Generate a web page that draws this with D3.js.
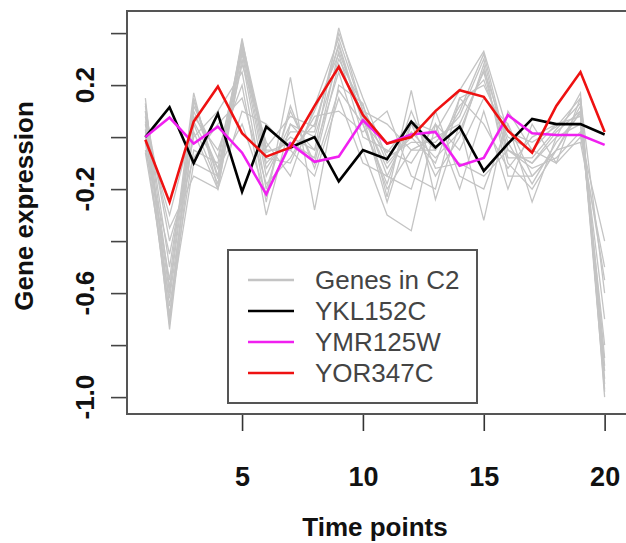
<!DOCTYPE html>
<html>
<head>
<meta charset="utf-8">
<script src="https://cdn.jsdelivr.net/npm/d3@7"></script>
<style>
  body { margin: 0; background: #fff; }
  svg { display: block; font-family: "Liberation Sans", Arial, sans-serif; }
</style>
</head>
<body>
<div id="chart"></div>
<script>
// time points 1..20
const timePoints = d3.range(1, 21);
const xTicks = [5, 10, 15, 20];
const yTicks = [-1.0, -0.8, -0.6, -0.4, -0.2, 0.0, 0.2, 0.4];
const yLabels = [-1.0, -0.6, -0.2, 0.2];

// genes in cluster C2 (grey)
const genesC2 = [
  [0.15, -0.70, 0.15, -0.15, 0.38, -0.10, 0.00, -0.05, 0.42, 0.10, -0.15, 0.05, -0.05, 0.10, 0.32, -0.05, -0.10, 0.00, 0.17, -1.00],
  [0.10, -0.74, 0.05, -0.18, 0.35, -0.05, -0.05, 0.05, 0.35, 0.05, -0.20, -0.05, 0.00, 0.05, 0.25, -0.10, -0.20, -0.05, 0.10, -0.95],
  [0.05, -0.60, 0.10, -0.12, 0.32, -0.15, 0.05, 0.00, 0.30, 0.12, -0.10, 0.00, -0.10, 0.15, 0.20, 0.00, -0.05, 0.05, 0.08, -0.90],
  [0.00, -0.55, 0.17, -0.20, 0.30, -0.20, 0.10, -0.10, 0.28, 0.08, -0.25, 0.05, -0.15, 0.00, 0.28, -0.15, -0.15, -0.05, 0.12, -0.85],
  [0.08, -0.65, -0.05, -0.10, 0.36, -0.08, -0.10, 0.10, 0.32, 0.00, -0.05, -0.10, 0.05, -0.05, 0.15, 0.05, -0.25, 0.00, 0.05, -0.80],
  [-0.05, -0.45, 0.00, 0.10, 0.25, -0.25, 0.23, -0.28, 0.20, 0.13, -0.23, 0.18, -0.24, 0.05, -0.32, 0.10, -0.05, -0.10, 0.00, -0.40],
  [0.12, -0.50, 0.08, -0.05, 0.20, -0.30, 0.05, -0.05, 0.25, -0.05, -0.30, -0.36, 0.05, -0.20, 0.10, -0.20, 0.05, -0.10, 0.15, -0.60],
  [-0.02, -0.68, -0.10, -0.15, 0.28, -0.02, -0.15, 0.12, 0.38, 0.10, 0.05, -0.05, -0.05, 0.12, 0.22, -0.05, -0.10, 0.02, 0.10, -0.98],
  [0.06, -0.35, -0.15, -0.20, 0.10, 0.05, -0.05, -0.15, 0.15, -0.10, -0.15, -0.20, 0.10, -0.15, -0.20, 0.05, -0.15, -0.05, -0.02, -0.50],
  [0.03, -0.72, 0.12, -0.08, 0.34, -0.12, 0.02, 0.02, 0.40, 0.15, -0.08, -0.02, -0.02, 0.08, 0.30, -0.08, -0.08, 0.03, 0.13, -0.93],
  [0.10, -0.40, -0.08, 0.05, 0.15, -0.18, -0.08, 0.08, 0.10, 0.02, 0.10, -0.15, -0.20, 0.15, 0.05, -0.12, 0.00, 0.05, 0.05, -0.70],
  [-0.06, -0.62, 0.02, -0.20, 0.33, -0.06, -0.02, -0.08, 0.33, 0.08, -0.12, 0.02, -0.08, 0.02, 0.26, -0.02, -0.18, -0.02, 0.09, -0.88],
  [0.02, -0.30, 0.06, -0.12, 0.05, -0.22, 0.12, -0.12, 0.18, 0.05, -0.18, 0.10, -0.12, -0.10, -0.15, -0.05, -0.12, -0.08, 0.02, -0.55],
  [0.13, -0.58, 0.14, -0.16, 0.37, -0.04, 0.08, 0.04, 0.36, 0.06, -0.06, 0.06, 0.02, 0.18, 0.33, 0.02, -0.02, 0.04, 0.15, -0.97]
];

const YKL152C = [0.00, 0.115, -0.10, 0.09, -0.21, 0.04, -0.04, 0.00, -0.17, -0.05, -0.085, 0.06, -0.04, 0.04, -0.13, -0.025, 0.07, 0.05, 0.05, 0.01];
const YMR125W = [0.00, 0.075, -0.025, 0.04, -0.06, -0.22, -0.025, -0.095, -0.075, 0.065, -0.025, 0.01, 0.02, -0.11, -0.08, 0.085, 0.015, 0.008, 0.008, -0.03];
const YOR347C = [-0.01, -0.25, 0.06, 0.195, 0.015, -0.075, -0.04, 0.12, 0.27, 0.085, -0.025, 0.0, 0.10, 0.18, 0.155, 0.025, -0.06, 0.12, 0.25, 0.02];

const highlighted = [
  {name: "YKL152C", values: YKL152C, color: "#000000"},
  {name: "YMR125W", values: YMR125W, color: "#f020f0"},
  {name: "YOR347C", values: YOR347C, color: "#ee1111"}
];

const width = 626, height = 543;
const box = {left: 127, right: 640, top: 11, bottom: 414};

const x = d3.scaleLinear()
  .domain([0.24, 20.76])
  .range([box.left, 623]);

const y = d3.scaleLinear()
  .domain([-1.065, 0.485])
  .range([box.bottom, box.top]);

// R style labels use a plain hyphen for negatives
const fmt = d => d3.format(".1f")(d).replace("\u2212", "-");

const svg = d3.select("#chart").append("svg")
  .attr("width", width)
  .attr("height", height);

const line = d3.line()
  .x((d, i) => x(timePoints[i]))
  .y(d => y(d));

svg.append("g")
    .attr("fill", "none")
    .attr("stroke", "#c4c4c4")
    .attr("stroke-width", 1.3)
  .selectAll("path")
  .data(genesC2)
  .join("path")
    .attr("d", d => line(d));

svg.append("g")
    .attr("fill", "none")
    .attr("stroke-width", 2.6)
    .attr("stroke-linejoin", "miter")
  .selectAll("path")
  .data(highlighted)
  .join("path")
    .attr("stroke", d => d.color)
    .attr("d", d => line(d.values));

// plot box
svg.append("rect")
  .attr("x", box.left)
  .attr("y", box.top)
  .attr("width", box.right - box.left)
  .attr("height", box.bottom - box.top)
  .attr("fill", "none")
  .attr("stroke", "#555")
  .attr("stroke-width", 2);

// x axis
const xAxis = g => g
  .attr("transform", `translate(0,${box.bottom + 1})`)
  .call(d3.axisBottom(x).tickValues(xTicks).tickSize(16).tickPadding(36).tickFormat(d3.format("d")))
  .call(g => g.select(".domain").remove())
  .call(g => g.selectAll(".tick line").attr("stroke", "#333").attr("stroke-width", 1.6))
  .call(g => g.selectAll(".tick text")
      .attr("fill", "#111")
      .attr("font-size", 27)
      .attr("font-weight", "bold")
      .attr("font-family", "Liberation Sans, Arial, sans-serif"));

svg.append("g").call(xAxis);

// y axis
const yAxis = g => g
  .attr("transform", `translate(${box.left - 1},0)`)
  .call(d3.axisLeft(y).tickValues(yTicks).tickSize(15).tickFormat(""))
  .call(g => g.select(".domain").remove())
  .call(g => g.selectAll(".tick line").attr("stroke", "#444").attr("stroke-width", 1.6));

svg.append("g").call(yAxis);

svg.append("g")
  .selectAll("text")
  .data(yLabels)
  .join("text")
    .attr("transform", d => `translate(94,${y(d)}) rotate(-90)`)
    .attr("text-anchor", "middle")
    .attr("font-size", 26)
    .attr("font-weight", "bold")
    .attr("fill", "#111")
    .text(fmt);

// axis titles
svg.append("text")
  .attr("x", 375)
  .attr("y", 536)
  .attr("text-anchor", "middle")
  .attr("font-size", 26)
  .attr("font-weight", "bold")
  .attr("fill", "#111")
  .text("Time points");

svg.append("text")
  .attr("transform", "translate(33,206) rotate(-90)")
  .attr("text-anchor", "middle")
  .attr("font-size", 26)
  .attr("font-weight", "bold")
  .attr("fill", "#111")
  .text("Gene expression");

// legend
const legendItems = [{name: "Genes in C2", color: "#c4c4c4"}].concat(highlighted);
const legend = svg.append("g");
legend.append("rect")
  .attr("x", 228)
  .attr("y", 250)
  .attr("width", 249)
  .attr("height", 153)
  .attr("fill", "#fff")
  .attr("stroke", "#555")
  .attr("stroke-width", 2);

const rows = legend.selectAll("g.row")
  .data(legendItems)
  .join("g")
    .attr("class", "row")
    .attr("transform", (d, i) => `translate(0,${280 + i * 31})`);

rows.append("line")
  .attr("x1", 248).attr("x2", 294)
  .attr("stroke", d => d.color)
  .attr("stroke-width", 2.6);

rows.append("text")
  .attr("x", 315)
  .attr("dy", "0.36em")
  .attr("font-size", 26)
  .attr("fill", "#444")
  .text(d => d.name);
</script>
</body>
</html>
